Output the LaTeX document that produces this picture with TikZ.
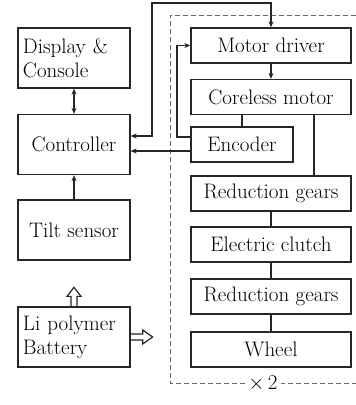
\documentclass[tikz,border=0pt]{standalone}
\usetikzlibrary{arrows.meta}
\begin{document}
\begin{tikzpicture}[x=1pt,y=-1pt,
  box/.style={draw=black!85, line width=1.3pt, inner sep=0pt, font=\rmfamily\fontsize{21}{24}\selectfont},
  lbox/.style={box, minimum width=112pt, minimum height=60pt},
  rbox/.style={box, minimum width=160pt, minimum height=35pt},
  conn/.style={draw=black!85, line width=1.3pt},
  arr/.style={conn, -{Stealth[length=6pt,width=5pt]}},
  darr/.style={conn, {Stealth[length=6pt,width=5pt]}-{Stealth[length=6pt,width=5pt]}},
  hollow/.style={draw=black!85, line width=1.2pt, line join=miter},
  grp/.style={draw=black!60, line width=0.8pt, dash pattern=on 5pt off 3pt}]
\useasboundingbox (0,0) rectangle (356,405);
\fill[white] (0,0) rectangle (356,405);
% left column
\node[lbox, align=left, text width=102pt] (disp) at (74,58) {Display \&\\Console};
\node[lbox] (ctrl) at (74,144.5) {Controller};
\node[lbox] (tilt) at (74,230) {Tilt sensor};
\node[lbox, align=left, text width=102pt] (batt) at (74,337) {Li polymer\\Battery};
% right column
\node[rbox] (md) at (271,45.5) {Motor driver};
\node[rbox] (cm) at (271,97) {Coreless motor};
\node[rbox, minimum width=102pt] (enc) at (242,144.5) {Encoder};
\node[rbox] (rg1) at (271,193.5) {Reduction gears};
\node[rbox] (ec) at (271,244.5) {Electric clutch};
\node[rbox] (rg2) at (271,296.5) {Reduction gears};
\node[rbox] (wh) at (271,349.5) {Wheel};
% helper coordinates
\coordinate (tl) at (152,3);
\coordinate (tr) at (271,3);
\coordinate (yc) at (0,136);
\coordinate (ye) at (0,151);
\coordinate (yf) at (0,137);
\coordinate (fb) at (177,0);
\coordinate (xg) at (314,0);
% group
\coordinate (g1) at (356,15);
\coordinate (g2) at (170,15);
\coordinate (g3) at (170,383);
\coordinate (g4) at (356,383);
\draw[grp] (g1) -- (g2) -- (g3) -- (g4);
\node[fill=white, inner sep=3pt, font=\rmfamily\fontsize{21}{24}\selectfont] (x2) at (263,383) {$\times\,$2};
% connectors
\draw[darr] (disp.south) -- (ctrl.north);
\draw[arr] (tilt.north) -- (ctrl.south);
\draw[darr] (ctrl.east |- yc) -- (tl |- yc) -- (tl) -- (tr) -- (md.north);
\draw[arr] (enc.west |- ye) -- (ctrl.east |- ye);
\draw[arr] (enc.west |- yf) -- (fb |- yf) -- (fb |- md.west) -- (md.west);
\draw[arr] (md.south) -- (cm.north);
\draw[conn] (enc.north |- cm.south) -- (enc.north);
\draw[conn] (xg |- cm.south) -- (xg |- rg1.north);
\draw[conn] (rg1.south) -- (ec.north);
\draw[conn] (ec.south) -- (rg2.north);
\draw[conn] (rg2.south) -- (wh.north);
% hollow arrows from the battery
\draw[hollow] (batt.north) ++(-3,0) -- ++(0,-10) -- ++(-4,0) -- ++(7,-9) -- ++(7,9) -- ++(-4,0) -- ++(0,10);
\draw[hollow] (batt.east) ++(0,-3) -- ++(12,0) -- ++(0,-4) -- ++(10,7) -- ++(-10,7) -- ++(0,-4) -- ++(-12,0);
\end{tikzpicture}
\end{document}
